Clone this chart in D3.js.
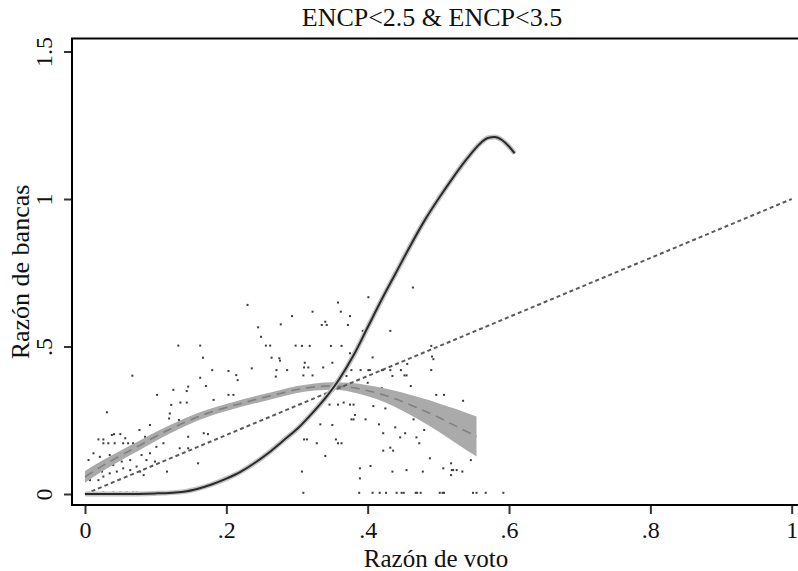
<!DOCTYPE html>
<html lang="es">
<head>
  <meta charset="UTF-8">
  <title>ENCP<2.5 & ENCP<3.5</title>
  <script src="https://d3js.org/d3.v7.min.js"></script>
  <style>
    body { margin: 0; background: #fff; }
    svg { display: block; }
  </style>
</head>
<body>
  <svg width="798" height="571"></svg>
  <script>
    // Axis ticks
    const xTicks = [0, 0.2, 0.4, 0.6, 0.8, 1];
    const xTickLabels = ["0", ".2", ".4", ".6", ".8", "1"];
    const yTicks = [0, 0.5, 1, 1.5];
    const yTickLabels = ["0", ".5", "1", "1.5"];

    // Observed points (vote ratio, seat ratio)
    const scatterX = [
      .230,.293,.277,.245,.249,.132,.163,.256,.262,.298,.167,.264,.275,.276,.067,.180,.203,.214,.216,.236,
      .271,.270,.286,.102,.125,.146,.144,.171,.163,.182,.203,.210,.122,.135,.144,.120,.119,.092,.031,.038,
      .019,.026,.041,.050,.057,.077,.085,.101,.111,.005,.012,.021,.026,.033,.035,.042,.047,.054,.061,.068,
      .064,.073,.080,.087,.092,.099,.031,.040,.024,.026,.035,.045,.054,.064,.073,.078,.083,.012,.017,.052,
      .007,.019,.116,.160,.168,.174,.146,.133,.134,.146,.012,.026,.040,.050,.059,.068,.073,
      .464,.401,.358,.322,.362,.375,.340,.335,.342,.372,.393,.432,.307,.318,.348,.363,.490,.491,.493,.375,
      .407,.311,.310,.316,.350,.337,.377,.390,.401,.403,.420,.422,.432,.447,.456,.490,.309,.322,.435,.452,
      .455,.370,.461,.420,.400,.446,.497,.508,.535,.346,.358,.366,.375,.380,.408,.425,.382,.377,.380,.397,
      .333,.350,.416,.439,.465,.480,.310,.314,.328,.355,.358,.363,.422,.453,.446,.469,.473,.432,.436,.422,
      .340,.488,.546,.307,.389,.404,.435,.455,.478,.507,.518,.519,.521,.526,.534,.518,.389,
      .309,.388,.407,.417,.426,.441,.448,.451,.468,.470,.475,.502,.506,.508,.549,.554,.567,.592
    ];
    const scatterY = [
      .641,.603,.575,.565,.533,.503,.503,.503,.503,.503,.462,.462,.460,.452,.401,.420,.417,.403,.386,.426,
      .420,.398,.420,.336,.353,.364,.349,.366,.394,.319,.336,.336,.302,.310,.310,.273,.256,.234,.277,.200,
      .185,.185,.203,.203,.189,.217,.194,.160,.172,.115,.138,.126,.172,.172,.132,.172,.132,.172,.172,.172,
      .115,.149,.132,.115,.138,.110,.093,.098,.076,.059,.070,.076,.087,.081,.093,.076,.064,.081,.098,.110,
      .047,.047,.076,.104,.206,.203,.194,.251,.155,.155,.005,.005,.005,.005,.005,.005,.005,
      .700,.667,.649,.618,.618,.603,.584,.573,.573,.573,.553,.553,.502,.502,.502,.502,.502,.466,.457,.477,
      .463,.445,.429,.429,.445,.429,.420,.420,.420,.420,.420,.420,.420,.420,.441,.420,.402,.402,.400,.402,
      .402,.400,.366,.359,.377,.336,.336,.336,.316,.303,.303,.310,.303,.303,.298,.290,.268,.253,.253,.253,
      .236,.234,.236,.226,.253,.217,.185,.185,.172,.185,.172,.172,.206,.206,.192,.192,.172,.157,.147,.147,
      .129,.121,.115,.076,.087,.095,.076,.081,.076,.087,.104,.081,.081,.081,.076,.064,.053,
      .004,.004,.004,.004,.004,.004,.004,.004,.004,.004,.004,.004,.004,.004,.004,.004,.004,.004
    ];

    // Fitted curve with narrow band (solid)
    const solidX = [0, .05, .1, .14, .16, .18, .2, .22, .24, .26, .28, .3, .32, .34, .36, .38, .4, .42, .44, .46, .48, .5, .52, .54, .56, .57, .58, .59, .6, .608];
    const solidY = [0, 0, .002, .008, .018, .033, .052, .075, .105, .14, .18, .22, .27, .325, .39, .47, .565, .66, .75, .84, .925, 1.0, 1.07, 1.135, 1.19, 1.207, 1.21, 1.2, 1.178, 1.155];

    // Local fit with confidence band (grey, long dash)
    const fitX = [0, .025, .05, .075, .1, .125, .15, .175, .2, .225, .25, .275, .3, .325, .35, .375, .4, .425, .45, .475, .5, .525, .554];
    const fitY = [.058, .096, .13, .162, .195, .225, .252, .275, .293, .31, .325, .34, .354, .363, .366, .362, .35, .334, .312, .287, .26, .23, .195];
    const fitCI = [.02, .018, .017, .016, .015, .014, .013, .012, .012, .012, .012, .012, .012, .012, .013, .015, .019, .024, .031, .039, .048, .058, .068];

    // Reference line (short dash)
    const diagX = [0, 1];
    const diagY = [0, 1];

    const svg = d3.select("svg");
    svg.append("rect").attr("width", 798).attr("height", 571).attr("fill", "#fff");

    const plotLeft = 72, plotTop = 38.5, plotBottom = 505, plotRight = 812;
    const serif = "'Liberation Serif', 'Times New Roman', serif";

    const x = d3.scaleLinear().domain([0, 1]).range([85, 791.7]);
    const y = d3.scaleLinear().domain([0, 1.5]).range([494, 51.5]);

    // scatter
    svg.append("g")
       .selectAll("rect")
       .data(d3.range(scatterX.length))
       .enter()
       .append("rect")
       .attr("x", i => x(scatterX[i]) - 1)
       .attr("y", i => y(scatterY[i]) - 1)
       .attr("width", 2)
       .attr("height", 2)
       .attr("fill", "#3a3a3a");

    // confidence band
    const fit = fitX.map((d, i) => ({ x: d, y: fitY[i], ci: fitCI[i] }));
    svg.append("path")
       .datum(fit)
       .attr("fill", "#aaa")
       .attr("d", d3.area()
         .x(d => x(d.x))
         .y0(d => y(d.y - d.ci))
         .y1(d => y(d.y + d.ci))
         .curve(d3.curveMonotoneX));
    svg.append("path")
       .datum(fit)
       .attr("fill", "none")
       .attr("stroke", "#808080")
       .attr("stroke-width", 1.6)
       .attr("stroke-dasharray", "9,6")
       .attr("d", d3.line().x(d => x(d.x)).y(d => y(d.y)).curve(d3.curveMonotoneX));

    // diagonal
    svg.append("path")
       .datum(diagX.map((d, i) => [d, diagY[i]]))
       .attr("fill", "none")
       .attr("stroke", "#5a5a5a")
       .attr("stroke-width", 2)
       .attr("stroke-dasharray", "4,3")
       .attr("d", d3.line().x(d => x(d[0])).y(d => y(d[1])));

    // solid fit with faint band
    const solid = solidX.map((d, i) => [d, solidY[i]]);
    const solidLine = d3.line().x(d => x(d[0])).y(d => y(d[1])).curve(d3.curveMonotoneX);
    svg.append("path")
       .datum(solid)
       .attr("fill", "none")
       .attr("stroke", "#c4c4c4")
       .attr("stroke-width", 5)
       .attr("d", solidLine);
    svg.append("path")
       .datum(solid)
       .attr("fill", "none")
       .attr("stroke", "#2a2a2a")
       .attr("stroke-width", 2)
       .attr("d", solidLine);

    // axes
    const xAxis = svg.append("g")
       .attr("transform", "translate(0," + plotBottom + ")")
       .call(d3.axisBottom(x).tickValues(xTicks).tickFormat((d, i) => xTickLabels[i]).tickSize(9).tickSizeOuter(0));
    const yAxis = svg.append("g")
       .attr("transform", "translate(" + plotLeft + ",0)")
       .call(d3.axisLeft(y).tickValues(yTicks).tickFormat((d, i) => yTickLabels[i]).tickSize(8).tickSizeOuter(0));
    xAxis.select(".domain").remove();
    yAxis.select(".domain").remove();
    svg.selectAll(".tick line").attr("stroke", "#333").attr("stroke-width", 2);
    xAxis.selectAll("text")
         .attr("fill", "#111")
         .style("font-family", serif)
         .style("font-size", "24px")
         .attr("y", 33)
         .attr("dy", 0);
    yAxis.selectAll("text")
         .attr("fill", "#111")
         .style("font-family", serif)
         .style("font-size", "24px")
         .attr("text-anchor", "middle")
         .attr("transform", "rotate(-90)")
         .attr("x", 0)
         .attr("y", -20)
         .attr("dy", 0);

    // plot region frame
    svg.append("path")
       .attr("fill", "none")
       .attr("stroke", "#000")
       .attr("stroke-width", 2)
       .attr("d", "M" + plotRight + "," + plotTop + "H" + plotLeft + "V" + plotBottom + "H" + plotRight);

    // titles
    svg.append("text")
       .attr("x", 432)
       .attr("y", 26)
       .attr("text-anchor", "middle")
       .style("font-family", serif)
       .style("font-size", "26px")
       .attr("fill", "#111")
       .text("ENCP<2.5 & ENCP<3.5");
    svg.append("text")
       .attr("x", 436)
       .attr("y", 567)
       .attr("text-anchor", "middle")
       .style("font-family", serif)
       .style("font-size", "25px")
       .attr("fill", "#111")
       .text("Razón de voto");
    svg.append("text")
       .attr("transform", "translate(29," + 272 + ") rotate(-90)")
       .attr("text-anchor", "middle")
       .style("font-family", serif)
       .style("font-size", "26px")
       .attr("fill", "#111")
       .text("Razón de bancas");
  </script>
</body>
</html>
